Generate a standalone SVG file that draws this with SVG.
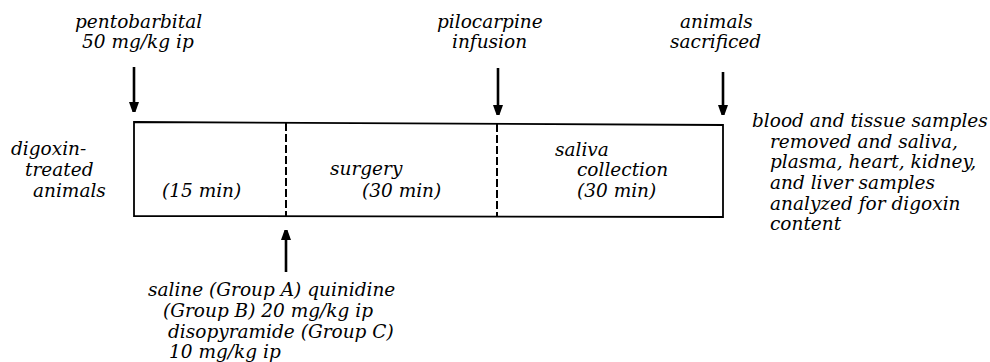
<svg xmlns="http://www.w3.org/2000/svg" width="990" height="362" viewBox="0 0 990 362">
<style>
text{font-family:"DejaVu Serif","Liberation Serif",serif;font-style:italic;font-size:18.5px;fill:#000}
.ln{stroke:#000;fill:none;stroke-width:1.8}
.dash{stroke:#000;fill:none;stroke-width:2;stroke-dasharray:8 3}
.arr{stroke:#000;fill:none;stroke-width:2.6}
</style>
<defs>
<marker id="ah" markerUnits="userSpaceOnUse" markerWidth="12" markerHeight="14" viewBox="0 0 12 14" refX="6" refY="13" orient="auto-start-reverse">
<path d="M0,0 L6,14 L12,0 Z" fill="#000" transform="rotate(-90 6 7)"/>
</marker>
<marker id="tip" markerUnits="userSpaceOnUse" markerWidth="10" markerHeight="14" viewBox="0 0 10 14" refX="10" refY="5" orient="auto">
<path d="M0,0 L14,5 L0,10 Z" fill="#000"/>
</marker>
</defs>
<rect width="990" height="362" fill="#fff"/>
<g id="timeline">
<path class="ln" d="M134,122 L723,125 L723,217 L134,216 Z"/>
<line class="dash" x1="286" y1="123" x2="286" y2="216"/>
<line class="dash" x1="497" y1="124" x2="497" y2="217"/>
</g>
<g id="connectors">
<line class="arr" x1="134" y1="67" x2="134" y2="112" marker-end="url(#tip)"/>
<line class="arr" x1="498" y1="68" x2="498" y2="115" marker-end="url(#tip)"/>
<line class="arr" x1="723" y1="72" x2="723" y2="115" marker-end="url(#tip)"/>
<line class="arr" x1="286" y1="272" x2="286" y2="230" marker-end="url(#tip)"/>
</g>
<g id="pentobarbital">
<text x="75" y="28">pentobarbital</text>
<text x="82" y="48">50 mg/kg ip</text>
</g>
<g id="pilocarpine">
<text x="437" y="28">pilocarpine</text>
<text x="452" y="48">infusion</text>
</g>
<g id="sacrificed">
<text x="680" y="28">animals</text>
<text x="670" y="48">sacrificed</text>
</g>
<g id="digoxin">
<text x="11" y="155">digoxin-</text>
<text x="25" y="176">treated</text>
<text x="33" y="197">animals</text>
</g>
<g id="phase1">
<text x="162" y="197">(15 min)</text>
</g>
<g id="phase2">
<text x="330" y="175">surgery</text>
<text x="362" y="197">(30 min)</text>
</g>
<g id="phase3">
<text x="555" y="156">saliva</text>
<text x="577" y="176">collection</text>
<text x="577" y="197">(30 min)</text>
</g>
<g id="samples">
<text x="752" y="127">blood and tissue samples</text>
<text x="770" y="148">removed and saliva,</text>
<text x="770" y="168">plasma, heart, kidney,</text>
<text x="770" y="189">and liver samples</text>
<text x="770" y="210">analyzed for digoxin</text>
<text x="770" y="230">content</text>
</g>
<g id="treatment">
<text x="148" y="296">saline (Group A) quinidine</text>
<text x="163" y="317">(Group B) 20 mg/kg ip</text>
<text x="168" y="338">disopyramide (Group C)</text>
<text x="169" y="358">10 mg/kg ip</text>
</g>
</svg>
